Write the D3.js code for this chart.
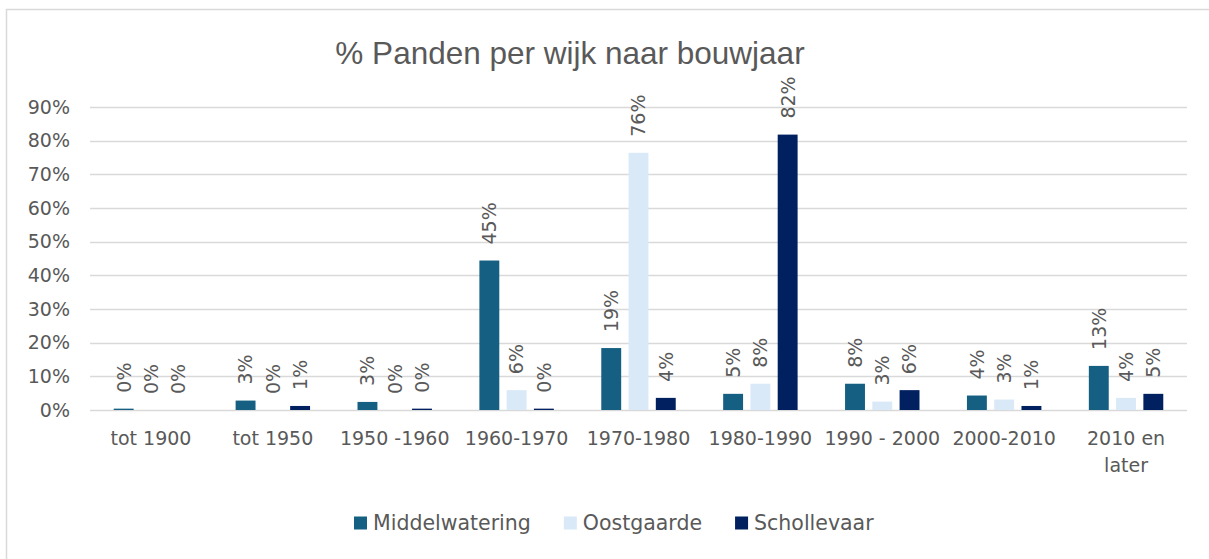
<!DOCTYPE html>
<html>
<head>
<meta charset="utf-8">
<script src="https://cdn.jsdelivr.net/npm/d3@7/dist/d3.min.js"></script>
<style>
  html, body { margin: 0; padding: 0; background: #fff; }
  svg { display: block; }
  text { font-family: "DejaVu Sans", sans-serif; fill: #595959; }
</style>
</head>
<body>
<div id="chart"></div>
<script>
// % Panden per wijk naar bouwjaar — grouped bars

const categories = ['tot 1900', 'tot 1950', '1950 -1960', '1960-1970', '1970-1980',
  '1980-1990', '1990 - 2000', '2000-2010', '2010 en later'];
const series = ['Middelwatering', 'Oostgaarde', 'Schollevaar'];
const middelwatering = [0.4, 2.8, 2.4, 44.4, 18.4, 4.8, 7.8, 4.3, 13.1];
const oostgaarde     = [0.0, 0.0, 0.0, 5.9, 76.4, 7.8, 2.5, 3.1, 3.6];
const schollevaar    = [0.0, 1.2, 0.4, 0.4, 3.6, 81.8, 5.9, 1.2, 4.8];
const labels = [
  ['0%', '3%', '3%', '45%', '19%', '5%', '8%', '4%', '13%'],
  ['0%', '0%', '0%', '6%', '76%', '8%', '3%', '3%', '4%'],
  ['0%', '1%', '0%', '0%', '4%', '82%', '6%', '1%', '5%'],
];
const yTicks = [0, 10, 20, 30, 40, 50, 60, 70, 80, 90];
const colors = ['#156082', '#dae9f8', '#002060'];

const W = 1209, H = 559;
const plot = { left: 90, right: 1187, top: 107, bottom: 410 };

const svg = d3.select('#chart').append('svg')
  .attr('width', W).attr('height', H);

// chart frame
svg.append('rect')
  .attr('x', 6.5).attr('y', 9.5)
  .attr('width', W + 20).attr('height', H + 20)
  .attr('fill', '#fff').attr('stroke', '#d9d9d9').attr('stroke-width', 1.5);

svg.append('text')
  .attr('x', 570).attr('y', 64)
  .attr('text-anchor', 'middle')
  .style('font-family', '"Liberation Sans", Arial, sans-serif')
  .style('font-size', '31.5px')
  .text('% Panden per wijk naar bouwjaar');

const x0 = d3.scaleBand().domain(categories).range([plot.left, plot.right]).padding(0);
const x1 = d3.scaleBand().domain(series).range([0, x0.bandwidth()])
  .paddingInner(0.27).paddingOuter(0.87);
const y = d3.scaleLinear().domain([0, 90]).range([plot.bottom, plot.top]);

// gridlines
svg.append('g')
  .selectAll('line').data(yTicks).join('line')
  .attr('x1', plot.left).attr('x2', plot.right)
  .attr('y1', d => Math.round(y(d)) + 0.5).attr('y2', d => Math.round(y(d)) + 0.5)
  .attr('stroke', '#d9d9d9').attr('stroke-width', 1.3);

// y axis labels
const yAxis = svg.append('g')
  .attr('transform', `translate(${plot.left},0)`)
  .call(d3.axisLeft(y).tickValues(yTicks).tickSize(0).tickPadding(20).tickFormat(d => d + '%'));
yAxis.select('.domain').remove();
yAxis.selectAll('text').style('font-size', '19px').style('font-family', '"DejaVu Sans", sans-serif').attr('fill', '#595959');

// x axis labels
const xAxis = svg.append('g')
  .attr('transform', `translate(0,${plot.bottom})`)
  .call(d3.axisBottom(x0).tickSize(0).tickPadding(22));
xAxis.select('.domain').remove();
xAxis.selectAll('text')
  .style('font-size', '19px').style('font-family', '"DejaVu Sans", sans-serif').attr('fill', '#595959')
  .each(function (d) {
    if (d === '2010 en later') {
      const t = d3.select(this).text(null);
      t.append('tspan').attr('x', 0).text('2010 en');
      t.append('tspan').attr('x', 0).attr('dy', '27px').text('later');
    }
  });

// bars
const seriesData = [middelwatering, oostgaarde, schollevaar];
const groups = svg.append('g').selectAll('g').data(categories).join('g')
  .attr('transform', d => `translate(${x0(d)},0)`);

groups.selectAll('rect')
  .data((c, i) => series.map((s, j) => ({ s, j, v: seriesData[j][i], label: labels[j][i] })))
  .join('rect')
  .attr('x', d => x1(d.s))
  .attr('y', d => y(d.v))
  .attr('width', x1.bandwidth())
  .attr('height', d => y(0) - y(d.v))
  .attr('fill', d => colors[d.j]);

groups.selectAll('text.lbl')
  .data((c, i) => series.map((s, j) => ({ s, j, v: seriesData[j][i], label: labels[j][i] })))
  .join('text')
  .attr('class', 'lbl')
  .attr('transform', d => `translate(${x1(d.s) + x1.bandwidth() / 2},${y(d.v) - 16}) rotate(-90)`)
  .attr('dy', '0.36em')
  .style('font-size', '19px')
  .text(d => d.label);

// legend
const legend = svg.append('g').attr('transform', 'translate(354,523)');
let lx = 0;
series.forEach((s, j) => {
  const item = legend.append('g').attr('transform', `translate(${lx},0)`);
  item.append('rect').attr('x', 0).attr('y', -6.5).attr('width', 13).attr('height', 13).attr('fill', colors[j]);
  const t = item.append('text').attr('x', 19).attr('dy', '0.36em').style('font-size', '20.5px').text(s);
  lx += 19 + t.node().getComputedTextLength() + 33;
});
</script>
</body>
</html>
